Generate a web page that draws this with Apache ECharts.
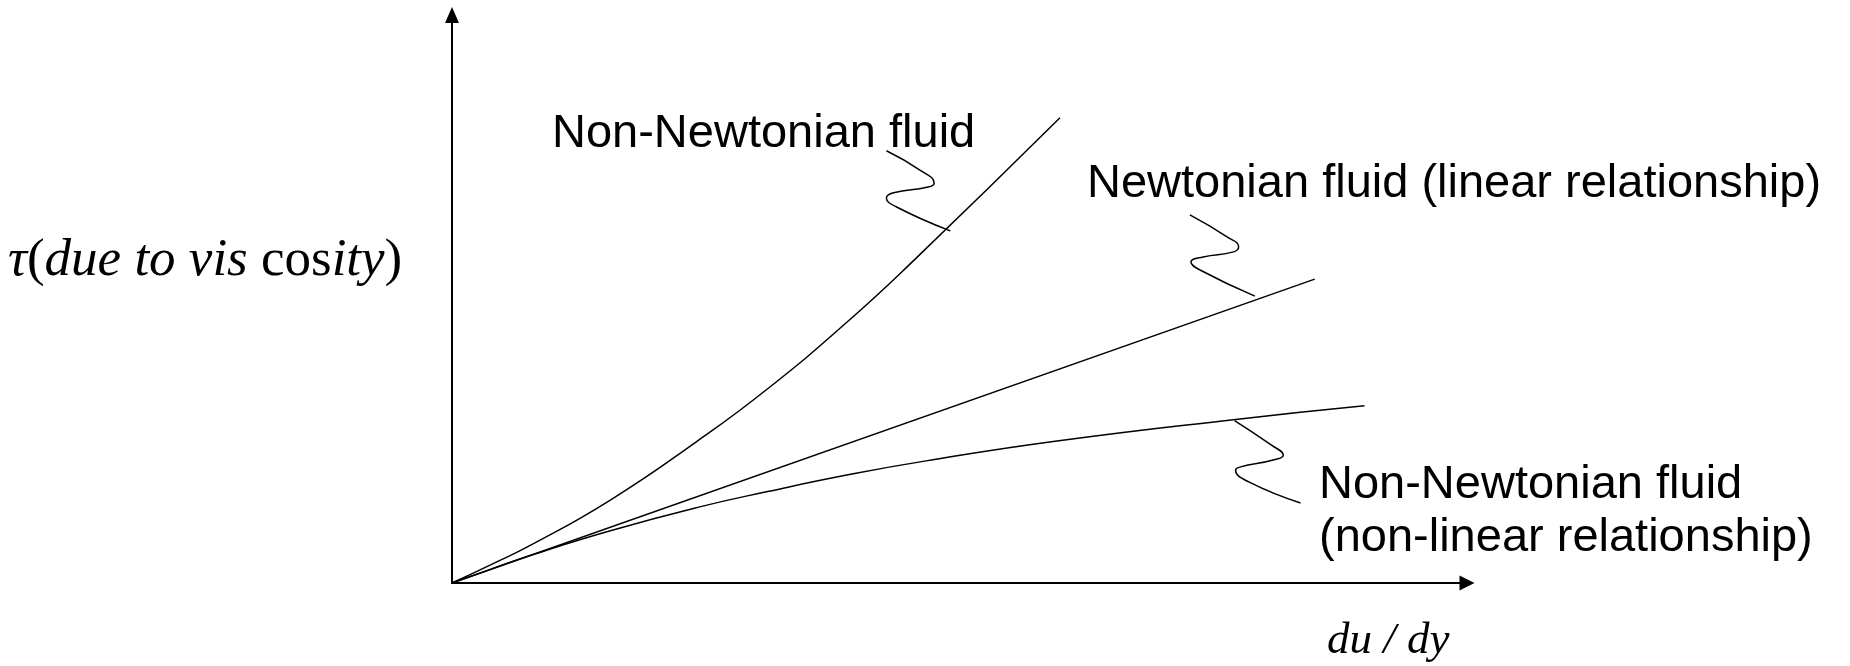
<!DOCTYPE html>
<html>
<head>
<meta charset="utf-8">
<script src="https://cdn.jsdelivr.net/npm/echarts@6/dist/echarts.min.js"></script>
<style>
  html, body { margin: 0; padding: 0; background: #fff; }
  #chart { width: 1850px; height: 666px; }
</style>
</head>
<body>
<div id="chart"></div>
<script>
// Shear stress vs. rate of shear strain for three kinds of fluid (arbitrary units).
const shearThickening = [[0, 0], [3.8, 3.2], [7.8, 6.7], [15.6, 14.6], [24.1, 24.9], [31.1, 34.2], [38.9, 45.9], [45.5, 56.8], [59.9, 81.9]];
const newtonian = [[0, 0], [85.0, 53.5]];
const shearThinning = [[0, 0], [3.8, 2.4], [7.8, 4.9], [15.6, 9.2], [24.4, 13.4], [31.1, 16.1], [38.9, 19.0], [46.7, 21.5], [59.6, 25.0], [77.2, 28.8], [89.9, 31.2]];

// Wavy leader lines joining each caption to its curve.
const leaderThickening = [[42.8, 76.1], [46.1, 72.7], [47.5, 70.4], [46.9, 69.7], [43.5, 68.7], [42.8, 67.8], [43.8, 66.2], [49.1, 62.0]];
const leaderNewtonian = [[72.7, 64.8], [76.4, 60.9], [77.5, 59.2], [77.0, 58.3], [74.0, 57.4], [72.8, 56.5], [73.7, 55.1], [79.1, 50.5]];
const leaderThinning = [[77.1, 28.6], [80.7, 24.3], [81.9, 22.5], [81.0, 21.7], [77.6, 20.4], [77.2, 19.9], [78.5, 17.8], [83.6, 14.1]];

const captions = {
  thickening: 'Non-Newtonian fluid',
  newtonian: 'Newtonian fluid (linear relationship)',
  thinning: ['Non-Newtonian fluid', '(non-linear relationship)']
};

const chart = echarts.init(document.getElementById('chart'), null, { renderer: 'canvas' });

const sans = '"Liberation Sans", Arial, sans-serif';
const serif = '"Liberation Serif", "Times New Roman", serif';

function curve(data, smooth) {
  return {
    type: 'line', data: data, smooth: smooth, symbol: 'none', silent: true,
    lineStyle: { color: '#000', width: 1.5 }
  };
}

function axis(arrowSize) {
  return {
    type: 'value', min: 0, max: 100,
    axisLine: { show: true, onZero: false, symbol: ['none', 'triangle'], symbolSize: arrowSize,
      lineStyle: { color: '#000', width: 2 } },
    axisTick: { show: false }, axisLabel: { show: false }, splitLine: { show: false }
  };
}

function caption(text, x, y) {
  return { type: 'text', x: x, y: y, silent: true,
    style: { text: text, fill: '#000', fontFamily: sans, fontSize: 47, verticalAlign: 'middle' } };
}

chart.setOption({
  animation: false,
  backgroundColor: '#fff',
  grid: { left: 452, right: 383, top: 15, bottom: 83 },
  xAxis: axis([15, 15]),
  yAxis: axis([14, 16]),
  series: [
    curve(shearThickening, 0.5),
    curve(newtonian, false),
    curve(shearThinning, 0.5),
    curve(leaderThickening, 0.5),
    curve(leaderNewtonian, 0.5),
    curve(leaderThinning, 0.5)
  ],
  graphic: [
    caption(captions.thickening, 552, 134),
    caption(captions.newtonian, 1087, 184),
    caption(captions.thinning[0], 1319, 485),
    caption(captions.thinning[1], 1319, 538),
    {
      type: 'text', x: 8, y: 261, silent: true,
      style: {
        text: '{g|τ}{u|(}{i|due to vis }{u|cos}{i|ity}{u|)}',
        verticalAlign: 'middle', fill: '#000',
        rich: {
          g: { fontFamily: serif, fontSize: 53, fontStyle: 'italic', fill: '#000' },
          u: { fontFamily: serif, fontSize: 53, fill: '#000' },
          i: { fontFamily: serif, fontSize: 53, fontStyle: 'italic', fill: '#000' }
        }
      }
    },
    {
      type: 'text', x: 1327, y: 641, silent: true,
      style: { text: 'du / dy', fill: '#000', fontFamily: serif, fontSize: 45, fontStyle: 'italic', verticalAlign: 'middle' }
    }
  ]
});
</script>
</body>
</html>
